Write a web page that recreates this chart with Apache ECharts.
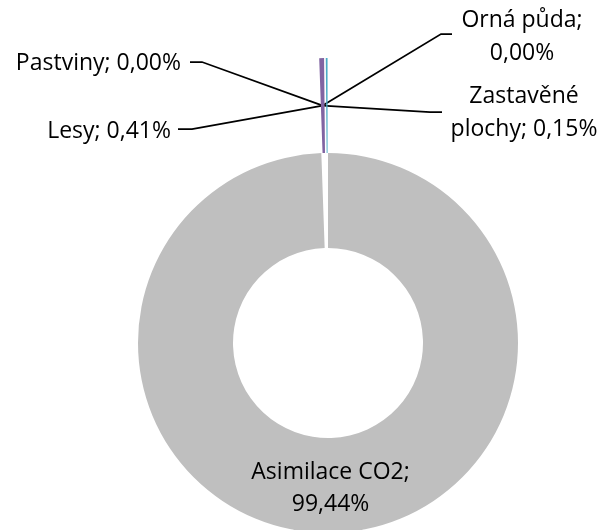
<!DOCTYPE html>
<html>
<head>
<meta charset="utf-8">
<script src="https://cdn.jsdelivr.net/npm/echarts@6/dist/echarts.min.js"></script>
<style>
  html, body { margin: 0; padding: 0; background: #fff; }
  #chart { width: 605px; height: 530px; }
</style>
</head>
<body>
<div id="chart"></div>
<script>
const categories = ['Asimilace CO2', 'Orná půda', 'Pastviny', 'Lesy', 'Zastavěné plochy'];
const values = [99.44, 0.00, 0.00, 0.41, 0.15];
const colors = ['#bfbfbf', '#4f81bd', '#c0504d', '#8064a2', '#4bacc6'];
const exploded = [false, true, true, true, true];

// ring geometry, px
const cx = 328, cy = 343, rIn = 95, rOut = 190, pull = 95;
const fontSize = 23;

// outside labels: text anchor, then elbow + end of the leader line
const labelSpots = [
    null,
    { x: 522, y: 37, align: 'center', elbow: [441, 34], end: [452, 34] },
    { x: 181, y: 63, align: 'right', elbow: [202, 62], end: [190, 62] },
    { x: 171, y: 131, align: 'right', elbow: [192, 129], end: [178, 129] },
    { x: 524, y: 113, align: 'center', elbow: [430, 112], end: [442, 112] }
];

function labelText(i) {
    let pct = values[i].toFixed(2).replace('.', ',') + '%';
    let name = categories[i];
    if (i === 4) return name.replace(' ', '\n') + '; ' + pct;
    if (i === 0 || i === 1) return name + ';\n' + pct;
    return name + '; ' + pct;
}

// all leader lines meet in the middle of the pulled-out Lesy slice
const total = values.reduce((a, b) => a + b, 0);
function midAngle(i) {
    let before = values.slice(0, i).reduce((a, b) => a + b, 0);
    return (before + values[i] / 2) / total * 2 * Math.PI;
}
const hubAngle = midAngle(3);
const hubR = (rIn + rOut) / 2 + pull;
const hub = [cx + hubR * Math.sin(hubAngle), cy - hubR * Math.cos(hubAngle)];

let graphics = [];
for (let i = 0; i < labelSpots.length; i++) {
    let s = labelSpots[i];
    if (!s) continue;
    graphics.push({
        type: 'polyline',
        silent: true,
        shape: { points: [hub, s.elbow, s.end] },
        style: { stroke: '#000', lineWidth: 1.75, fill: null }
    });
    graphics.push({
        type: 'text',
        silent: true,
        x: s.x,
        y: s.y,
        style: {
            text: labelText(i),
            font: fontSize + 'px "Open Sans"',
            lineHeight: 33,
            fill: '#000',
            align: s.align,
            verticalAlign: 'middle'
        }
    });
}

let dom = document.getElementById('chart');
let myChart = echarts.init(dom, null, { renderer: 'canvas' });

let data = values.map((v, i) => ({
    name: categories[i],
    value: v,
    selected: exploded[i],
    itemStyle: { color: colors[i] },
    label: { show: i === 0 },
    labelLine: { show: false }
}));

let option = {
    animation: false,
    graphic: graphics,
    series: [
        {
            type: 'pie',
            center: [cx, cy],
            radius: [rIn, rOut],
            startAngle: 90,
            clockwise: true,
            selectedMode: 'multiple',
            selectedOffset: pull,
            avoidLabelOverlap: false,
            emphasis: { disabled: true },
            itemStyle: { borderWidth: 0 },
            label: {
                position: 'inside',
                formatter: (p) => labelText(p.dataIndex),
                fontFamily: 'Open Sans',
                fontSize: fontSize,
                lineHeight: 32,
                color: '#000',
                align: 'center'
            },
            data: data
        }
    ]
};
myChart.setOption(option);
</script>
</body>
</html>
